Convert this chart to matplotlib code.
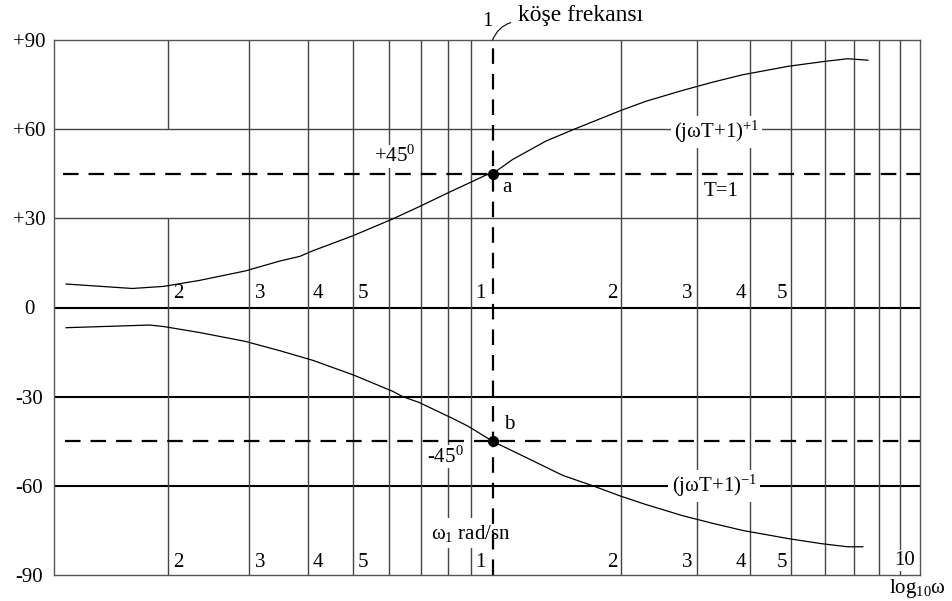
import numpy as np
import matplotlib.pyplot as plt
from matplotlib.ticker import NullLocator

plt.rcParams['font.family'] = ['Liberation Serif', 'DejaVu Serif']
plt.rcParams['mathtext.fontset'] = 'custom'
plt.rcParams['mathtext.rm'] = 'Liberation Serif'
plt.rcParams['mathtext.it'] = 'Liberation Serif:italic'

# phase of (jwT+1)^+1 and (jwT+1)^-1, T=1, in degrees
w_lead = [0.121, 0.168, 0.196, 0.234, 0.294, 0.348, 0.385, 0.411, 0.502, 0.610,
          0.697, 0.815, 0.885, 0.969, 1.0, 1.114, 1.333, 1.553, 1.997, 2.285,
          2.793, 3.27, 3.845, 4.94, 5.91, 6.77, 7.55]
phi_lead = [7.9, 6.4, 7.1, 9.1, 12.3, 15.6, 17.2, 19.1, 24.2, 29.8,
            34.0, 39.1, 41.7, 44.6, 45.0, 49.8, 56.0, 60.0, 66.3, 69.4,
            73.1, 75.8, 78.3, 81.2, 82.7, 83.7, 83.2]
w_lag = [0.121, 0.183, 0.196, 0.234, 0.294, 0.348, 0.385, 0.411, 0.502, 0.610,
         0.641, 0.694, 0.815, 0.885, 1.0, 1.219, 1.46, 1.717, 1.997, 2.285,
         2.793, 3.27, 3.845, 4.94, 5.91, 6.77, 7.35]
phi_lag = [-6.8, -5.9, -6.4, -8.4, -11.4, -14.5, -16.5, -17.8, -22.7, -28.2,
           -30.0, -31.9, -37.1, -39.9, -45.0, -51.0, -56.5, -60.0, -63.5, -66.3,
           -70.1, -72.6, -75.0, -77.8, -79.5, -80.5, -80.5]

phase_ticks = [90, 60, 30, 0, -30, -60, -90]
phase_labels = ['+90', '+60', '+30', '0', '-30', '-60', '-90']
grid_w = [0.2, 0.3, 0.4, 0.5, 0.6, 0.7, 0.8, 0.9, 2, 3, 4, 5, 6, 7, 8, 9]
num_w_low = [0.2, 0.3, 0.4, 0.5]
num_w_high = [2, 3, 4, 5]
num_labels = ['2', '3', '4', '5']
w_corner = 1.0
points = {'a': (1.0, 45.0), 'b': (1.0, -45.0)}


# log-paper with a slightly wider first decade
def fwd(w):
    lw = np.log10(np.clip(w, 1e-6, None))
    return np.where(lw < 0, 1.088 * lw, lw)


def inv(v):
    v = np.asarray(v, dtype=float)
    return np.where(v < 0, 10 ** (v / 1.088), 10 ** v)


fig = plt.figure(figsize=(9.52, 6.01), dpi=100)
ax = fig.add_axes([54 / 952, 1 - 575 / 601, 866 / 952, 535 / 601])
ax.set_xscale('function', functions=(fwd, inv))
ax.set_xlim(0.114, 10)
ax.set_ylim(-90, 90)

ax.xaxis.set_major_locator(NullLocator())
ax.xaxis.set_minor_locator(NullLocator())
ax.set_yticks(phase_ticks)
ax.set_yticklabels(phase_labels, fontsize=15, ha='center')
ax.tick_params(axis='y', length=0, pad=18)
for s in ax.spines.values():
    s.set_color('#555555')
    s.set_linewidth(1.0)

gc = '#444444'
for y in [60, 30]:
    ax.axhline(y, color=gc, lw=1.0, zorder=1)
for y in [0, -30, -60]:
    ax.axhline(y, color='black', lw=1.5, zorder=1)
for w in grid_w:
    if w == 0.2:
        ax.vlines(w, 60, 90, color=gc, lw=1.0, zorder=1)
        ax.vlines(w, -90, 30, color=gc, lw=1.0, zorder=1)
    else:
        ax.axvline(w, color=gc, lw=1.0, zorder=1)

# 45 degree guides and corner frequency
ax.axhline(45, xmin=0.010, color='black', lw=1.6, dashes=(7, 4.5), zorder=3)
ax.axhline(-45, xmin=0.013, color='black', lw=1.6, dashes=(7, 4.5), zorder=3)
ax.axvline(w_corner, color='black', lw=1.6, dashes=(7, 4.5), zorder=3)

ax.plot(w_lead, phi_lead, color='black', lw=0.9, zorder=3, solid_joinstyle='round')
ax.plot(w_lag, phi_lag, color='black', lw=0.9, zorder=3, solid_joinstyle='round')

for name, (w, p) in points.items():
    ax.plot(w, p, 'o', color='black', ms=7, zorder=4)
ax.annotate('a', xy=points['a'], xytext=(10, -10), textcoords='offset points',
            ha='center', va='center', fontsize=15)
ax.annotate('b', xy=points['b'], xytext=(12, 12), textcoords='offset points',
            ha='center', va='center', fontsize=15)

# frequency numbers on the log paper
wb = dict(boxstyle='square,pad=0.05', fc='white', ec='none')
for row_y in [3.2, -87.3]:
    for w, s in zip(num_w_low, num_labels):
        ax.annotate(s, xy=(w, row_y), xytext=(4, 0), textcoords='offset points',
                    ha='left', va='baseline', fontsize=15)
    for w, s in zip(num_w_high, num_labels):
        ax.annotate(s, xy=(w, row_y), xytext=(-3, 0), textcoords='offset points',
                    ha='right', va='baseline', fontsize=15)
    ax.annotate('1', xy=(w_corner, row_y), xytext=(-5, 0), textcoords='offset points',
                ha='right', va='baseline', fontsize=15)
ax.annotate('10', xy=(10, -86.6), xytext=(-4, 0), textcoords='offset points',
            ha='right', va='baseline', fontsize=15, bbox=wb, zorder=2)

ax.text(0.557, 49, '+45$^0$', ha='left', va='baseline', fontsize=15,
        bbox=wb, zorder=2)
ax.text(0.792, -50.2, '-45$^0$', ha='center', va='center', fontsize=15,
        bbox=wb, zorder=2)
ax.text(3.34, 59, '(jωT+1)$^{+1}$', ha='center', va='center', fontsize=15,
        bbox=dict(boxstyle='square,pad=0.15', fc='white', ec='none'), zorder=2)
ax.text(3.3, -60, '(jωT+1)$^{-1}$', ha='center', va='center', fontsize=15,
        bbox=dict(boxstyle='square,pad=0.15', fc='white', ec='none'), zorder=2)
ax.text(3.42, 39, 'T=1', ha='center', va='center', fontsize=15)
ax.text(0.9, -75.9, 'ω$_1$ rad/sn', ha='center', va='center', fontsize=15,
        bbox=dict(boxstyle='square,pad=0.2', fc='white', ec='none'), zorder=2)

ax.annotate('1', xy=(w_corner, 90), xytext=(-4, 13), textcoords='offset points',
            ha='center', va='center', fontsize=15, annotation_clip=False)
ax.annotate('köşe frekansı', xy=(w_corner, 90), xytext=(18, 18),
            textcoords='offset points', ha='left', va='center', fontsize=17,
            annotation_clip=False,
            arrowprops=dict(arrowstyle='-', lw=0.8, color='black',
                            connectionstyle='arc3,rad=0.3',
                            relpos=(0, 0.2), shrinkA=3, shrinkB=0))
ax.annotate('log$_{10}$ω', xy=(10, -90), xytext=(-2, -10), textcoords='offset points',
            ha='center', va='center', fontsize=15, annotation_clip=False)

fig.savefig('out.png', dpi=100)
